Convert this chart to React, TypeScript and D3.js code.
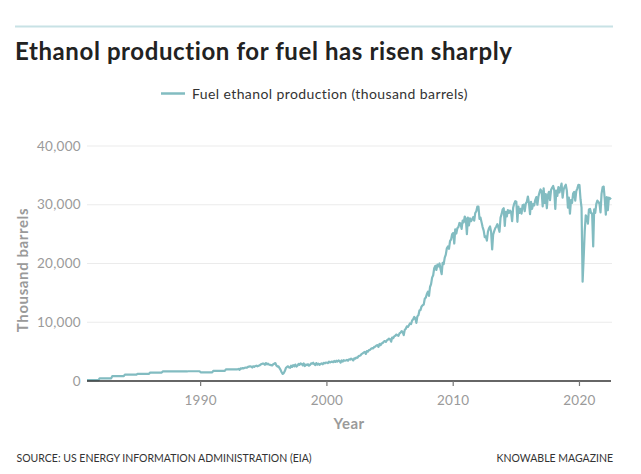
import React from "react";
import * as d3 from "d3";

const W = 641;
const H = 474;

const titleText = "Ethanol production for fuel has risen sharply";
const seriesName = "Fuel ethanol production (thousand barrels)";
const yAxisTitle = "Thousand barrels";
const xAxisTitle = "Year";
const sourceText = "SOURCE: US ENERGY INFORMATION ADMINISTRATION (EIA)";
const creditText = "KNOWABLE MAGAZINE";

const yTicks = [0, 10000, 20000, 30000, 40000];
const xTickYears = [1990, 2000, 2010, 2020];

// 1981-1992: monthly figures are the annual total spread evenly (flat steps)
const annualYears = [1981, 1982, 1983, 1984, 1985, 1986, 1987, 1988, 1989, 1990, 1991, 1992];
const annualMonthlyValue = [165, 447, 824, 1076, 1224, 1436, 1635, 1625, 1663, 1484, 1739, 1988];

// Monthly values (thousand barrels), January 1993 onward
const monthlyStartYear = 1993;
const monthly1990s = [
  2050, 1900, 2150, 2100, 2200, 2150, 2250, 2300, 2250, 2400, 2450, 2500,
  2450, 2300, 2500, 2400, 2550, 2600, 2500, 2600, 2650, 2800, 2900, 2950,
  2950, 2750, 3050, 2850, 2950, 2800, 2750, 2700, 2650, 2850, 2950, 3050,
  2650, 2450, 2500, 2200, 1900, 1500, 1200, 1350, 1700, 2200, 2400, 2500,
  2300, 2250, 2600, 2400, 2700, 2500, 2800, 2450, 2600, 2900, 2750, 3000,
  2900, 2650, 3000, 2550, 2800, 2700, 2850, 2600, 2750, 3000, 2950, 3100,
  2850, 2700, 3050, 2800, 2950, 2750, 2900, 3000, 2850, 3100, 3000, 3150,
];
const monthly2000s = [
  3100, 3050, 3300, 3150, 3250, 3300, 3200, 3400, 3250, 3450, 3300, 3500,
  3400, 3150, 3500, 3300, 3550, 3450, 3500, 3600, 3450, 3700, 3650, 3800,
  3700, 3500, 3850, 3800, 4000, 3950, 4200, 4300, 4350, 4600, 4700, 4850,
  4950, 4600, 5100, 5000, 5250, 5300, 5500, 5600, 5550, 5800, 5850, 6050,
  6100, 5800, 6300, 6100, 6400, 6450, 6700, 6800, 6650, 6900, 7050, 7200,
  7100, 6700, 7400, 7300, 7600, 7700, 7900, 7800, 7700, 8100, 8250, 8500,
  8300, 7800, 8700, 8900, 9300, 9200, 9500, 9800, 9700, 10300, 10500, 10900,
  10700, 9900, 11000, 11200, 12000, 12100, 12700, 12900, 13000, 14000, 14200, 14800,
  15200, 14500, 16000, 16500, 17600, 18000, 19200, 19600, 18900, 19800, 19500, 20000,
  19000, 18200, 20100, 19900, 21000, 21500, 22600, 22900, 22500, 23800, 24100, 25000,
];
const monthly2010s = [
  25200, 23400, 25800, 25100, 26000, 26200, 26900, 26800, 25900, 27300, 27000, 28000,
  27600, 25000, 27800, 26500, 27700, 27200, 27500, 27900, 27300, 28600, 28900, 29700,
  29700, 27600, 27800, 27000, 26200, 25600, 24500, 24600, 23900, 25400, 26000, 26300,
  25400, 22400, 24900, 25500, 26000, 26300, 26700, 26100, 25400, 27800, 28400, 29200,
  29400, 26400, 28800, 28000, 29100, 28600, 29000, 28800, 27200, 29500, 30200, 30600,
  30500, 27100, 29700, 28600, 29300, 28500, 29900, 30000, 28900, 30200, 30500, 31400,
  30300, 28400, 30500, 29300, 30100, 29900, 30800, 31300, 30000, 31400, 32100, 32600,
  32300, 29700, 32800, 30300, 31800, 29400, 31600, 32200, 30800, 32500, 32900, 33200,
  32500, 29300, 32400, 31500, 33000, 32100, 32800, 33600, 31200, 32600, 33100, 33400,
  32400, 29500, 31200, 28500, 30800, 30300, 31900, 32200, 30700, 32300, 32800, 33400,
];
const monthly2020s = [
  33350, 30900, 29500, 16900, 20900, 25500, 28200, 27900, 26800, 29200, 29300, 28600,
  28500, 22900, 29200, 28600, 30100, 30700, 30500, 30200, 28700, 31900, 33000, 33100,
  31000, 28300, 31300, 29100, 31200, 31000, 31200,
];

type Pt = { date: Date; value: number };

function buildSeries(): Pt[] {
  const pts: Pt[] = [];
  annualYears.forEach((yr, i) => {
    for (let m = 0; m < 12; m++) pts.push({ date: new Date(yr, m, 1), value: annualMonthlyValue[i] });
  });
  const monthly = [...monthly1990s, ...monthly2000s, ...monthly2010s, ...monthly2020s];
  monthly.forEach((v, i) => {
    const yr = monthlyStartYear + Math.floor(i / 12);
    pts.push({ date: new Date(yr, i % 12, 1), value: v });
  });
  return pts;
}

const FONT = "Lato, 'Open Sans', sans-serif";

export default function App() {
  const data = buildSeries();
  const left = 87;
  const right = 611;
  const top = 146;
  const bottom = 381;

  const x = d3
    .scaleTime()
    .domain(d3.extent(data, (d) => d.date) as [Date, Date])
    .range([left, right]);
  const y = d3.scaleLinear().domain([0, 40000]).range([bottom, top]);

  const line = d3
    .line<Pt>()
    .x((d) => x(d.date))
    .y((d) => y(d.value));

  const fmt = d3.format(",");

  return (
    <svg width={W} height={H} style={{ display: "block", position: "absolute", left: 0, top: 0 }} fontFamily={FONT}>
      <rect x={0} y={0} width={W} height={H} fill="#fff" />
      <line x1={15} x2={613} y1={26.5} y2={26.5} stroke="#c8e2e5" strokeWidth={2} />
      <text x={15} y={60} fontSize={24} fontWeight={700} fill="#222" letterSpacing={0.6}>
        {titleText}
      </text>

      <line x1={161} x2={185} y1={93.5} y2={93.5} stroke="#82bcc1" strokeWidth={2.5} />
      <text x={192} y={98.5} fontSize={14} fill="#333" letterSpacing={0.4}>
        {seriesName}
      </text>

      {yTicks.map((t) => (
        <g key={t}>
          {t > 0 && (
            <line x1={left} x2={612} y1={y(t)} y2={y(t)} stroke="#ebebeb" strokeWidth={1.2} />
          )}
          <text x={81} y={y(t)} dy="0.35em" textAnchor="end" fontSize={13.5} fill="#9a9a9a" letterSpacing={0.3}>
            {fmt(t)}
          </text>
        </g>
      ))}

      <path d={line(data) || ""} fill="none" stroke="#82bcc1" strokeWidth={2.2} strokeLinejoin="round" />

      <line x1={left} x2={right} y1={bottom} y2={bottom} stroke="#333" strokeWidth={1.5} />
      {xTickYears.map((yr) => {
        const xx = x(new Date(yr, 0, 1));
        return (
          <g key={yr}>
            <line x1={xx} x2={xx} y1={bottom} y2={bottom + 5} stroke="#777" strokeWidth={1.2} />
            <text x={xx} y={405} textAnchor="middle" fontSize={13.5} fill="#9a9a9a" letterSpacing={0.3}>
              {yr}
            </text>
          </g>
        );
      })}

      <text x={(left + right) / 2} y={429} textAnchor="middle" fontSize={15} fontWeight={700} fill="#9a9a9a" letterSpacing={0.5}>
        {xAxisTitle}
      </text>
      <text
        transform={`translate(28, 270) rotate(-90)`}
        textAnchor="middle"
        fontSize={15}
        fontWeight={700}
        fill="#9a9a9a"
        letterSpacing={0.6}
      >
        {yAxisTitle}
      </text>

      <text x={16.5} y={462} fontSize={10.5} fill="#333">
        {sourceText}
      </text>
      <text x={613} y={462} textAnchor="end" fontSize={10.5} fill="#333">
        {creditText}
      </text>
    </svg>
  );
}
